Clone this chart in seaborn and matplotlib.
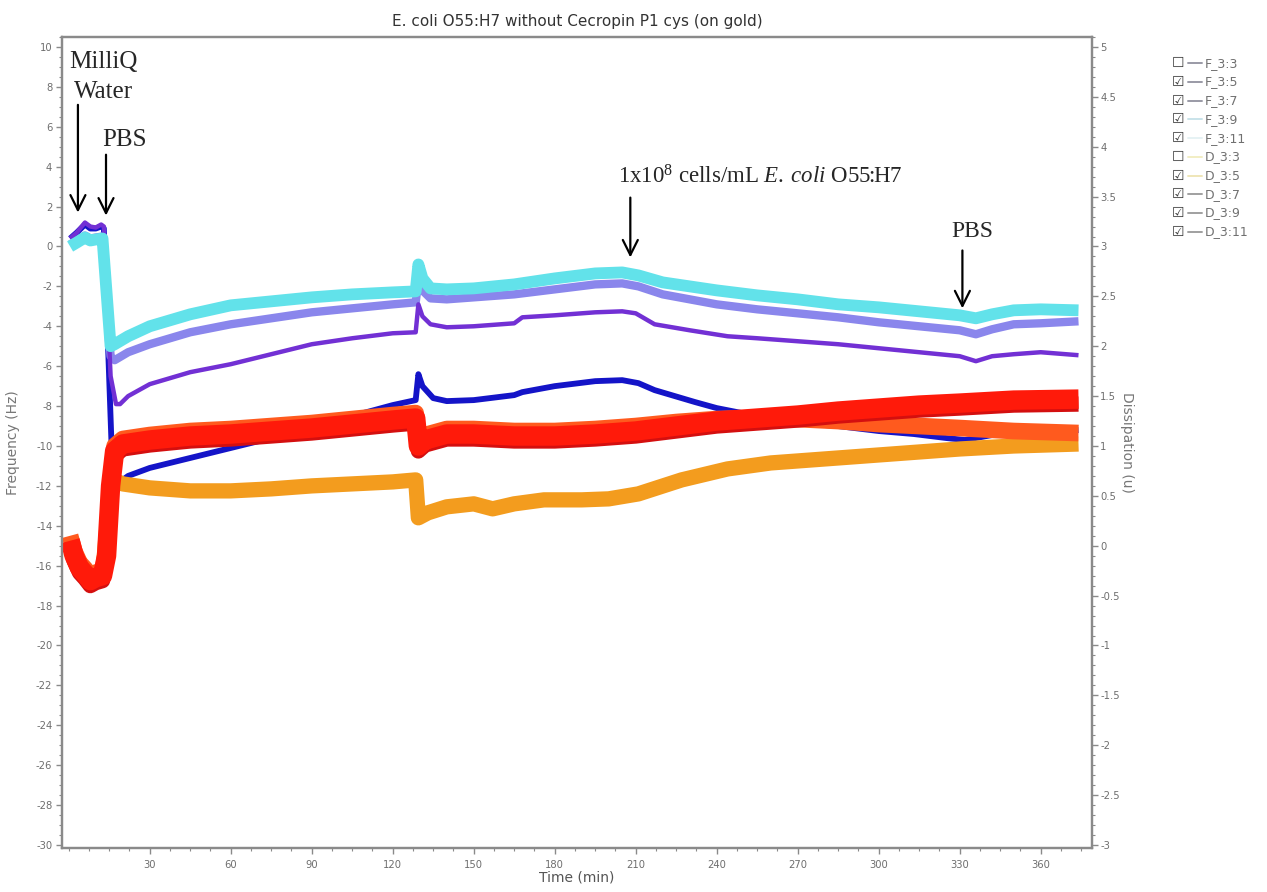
import numpy as np
import pandas as pd
import matplotlib
matplotlib.use("Agg")
import matplotlib.pyplot as plt
import seaborn as sns
from matplotlib.ticker import MultipleLocator, FuncFormatter
from matplotlib.lines import Line2D

# ---------------- data ----------------
# Frequency series (left axis, Hz)
t_f35 = [0.5, 3, 6, 8, 10, 12, 13, 16, 19, 22, 30, 45, 60, 75, 90, 105, 120, 128.5, 129.5, 131, 135,
         140, 150, 165, 168, 180, 195, 205, 211, 217, 232, 240, 255, 270, 285, 300, 313, 325, 332, 340,
         346, 360, 374]
f35 = [0.4, 0.7, 1.1, 0.9, 0.9, 1.0, 0.9, -10.5, -11.8, -11.5, -11.1, -10.6, -10.1, -9.6, -9.1, -8.5,
       -7.95, -7.7, -6.4, -7.0, -7.6, -7.75, -7.7, -7.45, -7.3, -7.0, -6.75, -6.7, -6.85, -7.2, -7.8,
       -8.1, -8.5, -8.85, -9.0, -9.25, -9.4, -9.6, -9.7, -9.5, -9.35, -9.3, -9.2]

t_f37 = [0.5, 3, 6, 8, 10, 12, 13, 15.5, 17.5, 19, 22, 30, 45, 60, 75, 90, 105, 120, 128.5, 129.5, 131,
         134, 140, 150, 160, 165, 168, 180, 195, 205, 210, 217, 230, 244, 255, 270, 285, 300, 315, 330,
         336, 342, 350, 360, 374]
f37 = [0.4, 0.7, 1.2, 1.0, 0.95, 1.1, 1.0, -6.5, -7.9, -7.9, -7.5, -6.9, -6.3, -5.9, -5.4, -4.9, -4.6,
       -4.35, -4.3, -2.9, -3.5, -3.9, -4.05, -4.0, -3.9, -3.85, -3.55, -3.45, -3.3, -3.25, -3.35, -3.9,
       -4.2, -4.5, -4.6, -4.75, -4.9, -5.1, -5.3, -5.5, -5.75, -5.5, -5.4, -5.3, -5.45]

t_f39 = [0.5, 3, 6, 8, 10, 12.5, 15.5, 17, 22, 30, 45, 60, 75, 90, 105, 120, 128.5, 129.5, 131, 134,
         140, 150, 165, 180, 195, 205, 211, 220, 240, 255, 270, 285, 300, 315, 330, 336, 342, 350, 360,
         374]
f39 = [0.1, 0.3, 0.55, 0.4, 0.45, 0.5, -5.5, -5.7, -5.3, -4.9, -4.3, -3.9, -3.6, -3.3, -3.1, -2.9, -2.8,
       -1.7, -2.2, -2.6, -2.65, -2.55, -2.4, -2.15, -1.9, -1.85, -2.0, -2.4, -2.9, -3.15, -3.35, -3.55,
       -3.8, -4.0, -4.2, -4.4, -4.15, -3.9, -3.85, -3.75]

t_f311 = [0.5, 3, 6, 8, 10, 12.5, 15.5, 17, 22, 30, 45, 60, 75, 90, 105, 120, 128.5, 129.5, 131, 134,
          140, 150, 165, 180, 195, 205, 211, 220, 240, 255, 270, 285, 300, 315, 330, 336, 342, 350, 360,
          374]
f311 = [0.0, 0.2, 0.45, 0.3, 0.35, 0.4, -5.0, -4.9, -4.5, -4.0, -3.4, -2.95, -2.75, -2.55, -2.4, -2.3,
        -2.25, -0.9, -1.6, -2.1, -2.15, -2.1, -1.9, -1.6, -1.35, -1.3, -1.45, -1.8, -2.2, -2.45, -2.65,
        -2.9, -3.05, -3.25, -3.45, -3.6, -3.4, -3.2, -3.15, -3.2]

# Dissipation series (right axis, 1e-6)
t_d35 = [0.5, 4, 8, 12.5, 14.5, 16.5, 20, 30, 45, 60, 75, 90, 105, 120, 128.5, 129.5, 133, 140, 150,
         157, 165, 176, 190, 200, 211, 227, 244, 260, 275, 290, 310, 330, 350, 374]
d35 = [-0.05, -0.2, -0.3, -0.3, 0.3, 0.66, 0.62, 0.58, 0.55, 0.55, 0.57, 0.6, 0.62, 0.64, 0.66, 0.28,
       0.33, 0.39, 0.42, 0.37, 0.42, 0.46, 0.46, 0.47, 0.52, 0.66, 0.77, 0.83, 0.86, 0.89, 0.93, 0.97,
       1.0, 1.02]

t_dred = [0.5, 2, 4, 6, 8, 10, 12.5, 14, 15.5, 17, 20, 30, 45, 60, 75, 90, 105, 120, 128.5, 129.5, 132,
          140, 150, 165, 180, 195, 210, 225, 240, 255, 270, 285, 300, 315, 330, 350, 374]
d37 = [0.1, -0.05, -0.17, -0.23, -0.3, -0.27, -0.25, -0.05, 0.65, 1.0, 1.07, 1.11, 1.15, 1.17, 1.2,
       1.23, 1.27, 1.31, 1.33, 1.05, 1.11, 1.17, 1.17, 1.15, 1.15, 1.17, 1.2, 1.24, 1.27, 1.28, 1.27,
       1.25, 1.22, 1.2, 1.18, 1.15, 1.13]
d39 = [0.05, -0.1, -0.22, -0.28, -0.35, -0.32, -0.3, -0.1, 0.6, 0.95, 1.02, 1.06, 1.1, 1.12, 1.15,
       1.18, 1.22, 1.26, 1.28, 1.0, 1.06, 1.12, 1.12, 1.1, 1.1, 1.12, 1.15, 1.2, 1.25, 1.28, 1.31, 1.35,
       1.38, 1.41, 1.43, 1.46, 1.47]
d311 = [0.0, -0.15, -0.27, -0.33, -0.4, -0.37, -0.35, -0.15, 0.55, 0.9, 0.97, 1.01, 1.05, 1.07, 1.1,
        1.13, 1.17, 1.21, 1.23, 0.95, 1.01, 1.07, 1.07, 1.05, 1.05, 1.07, 1.1, 1.15, 1.2, 1.23, 1.26,
        1.3, 1.33, 1.36, 1.38, 1.41, 1.42]

legend_labels = ["F_3:3", "F_3:5", "F_3:7", "F_3:9", "F_3:11",
                 "D_3:3", "D_3:5", "D_3:7", "D_3:9", "D_3:11"]
legend_checked = [False, True, True, True, True, False, True, True, True, True]
legend_colors = ["#9a9aa6", "#9a9aa6", "#9a9aa6", "#c9e3ea", "#e6f2f4",
                 "#f2eec4", "#efe6b8", "#a0a0a0", "#a0a0a0", "#a0a0a0"]

x_ticks = [30, 60, 90, 120, 150, 180, 210, 240, 270, 300, 330, 360]

title = "E. coli O55:H7 without Cecropin P1 cys (on gold)"

# ---------------- styling ----------------
sns.set_theme(style="white")
plt.rcParams["font.family"] = ["DejaVu Sans"]
plt.rcParams["axes.unicode_minus"] = False
plt.rcParams["mathtext.fontset"] = "custom"
plt.rcParams["mathtext.rm"] = "Liberation Serif"
plt.rcParams["mathtext.it"] = "Liberation Serif:italic"

W, H = 1267, 892
fig = plt.figure(figsize=(W / 100, H / 100), dpi=100)
fig.patch.set_facecolor("white")

ax_l, ax_r, ax_t, ax_b = 62, 1092, 37, 848
ax = fig.add_axes([ax_l / W, 1 - ax_b / H, (ax_r - ax_l) / W, (ax_b - ax_t) / H])
ax2 = ax.twinx()

line_kw = dict(solid_capstyle="butt", solid_joinstyle="round", errorbar=None, legend=False)

freq_series = [
    (t_f35, f35, "#1414c8", 4.2),
    (t_f39, f39, "#8a86ec", 6.0),
    (t_f37, f37, "#7230d4", 3.2),
    (t_f311, f311, "#62e2ea", 8.5),
]
for tt, vv, col, lw in freq_series:
    df = pd.DataFrame({"t": tt, "v": vv})
    sns.lineplot(data=df, x="t", y="v", ax=ax, color=col, linewidth=lw, **line_kw)

diss_series = [
    (t_d35, d35, "#f39c1e", 11),
    (t_dred, d37, "#ff5a1e", 12),
    (t_dred, d311, "#d40f0f", 11),
    (t_dred, d39, "#ff1a0a", 14),
]
for tt, vv, col, lw in diss_series:
    df = pd.DataFrame({"t": tt, "v": vv})
    sns.lineplot(data=df, x="t", y="v", ax=ax2, color=col, linewidth=lw, **line_kw)

# ---------------- axes ----------------
ax.set_xlim(-2.5, 379)
ax.set_ylim(-30.15, 10.5)
ax2.set_ylim(-3.03, 5.1)

tick_col = "#6e6e6e"
spine_col = "#8a8a8a"
ax.set_xticks(x_ticks)
ax.xaxis.set_minor_locator(MultipleLocator(7.5))
ax.set_yticks(np.arange(-30, 11, 2))
ax.yaxis.set_minor_locator(MultipleLocator(0.5))
ax2.set_yticks(np.arange(-3, 5.01, 0.5))
ax2.yaxis.set_minor_locator(MultipleLocator(0.1))
fmt = FuncFormatter(lambda v, p: "%g" % v)
ax.yaxis.set_major_formatter(fmt)
ax2.yaxis.set_major_formatter(fmt)

for a in (ax, ax2):
    for s in a.spines.values():
        s.set_color(spine_col)
        s.set_linewidth(1.6)
    a.tick_params(which="major", length=4, width=1, color=spine_col, labelcolor=tick_col, labelsize=7.2,
                  direction="out")
    a.tick_params(which="minor", length=2, width=0.8, color=spine_col, direction="out")
ax.tick_params(axis="x", which="both", bottom=True, pad=5)
ax.tick_params(axis="y", which="both", left=True, pad=3)
ax2.tick_params(axis="y", which="both", right=True, pad=2)

ax.set_xlabel("Time (min)", fontsize=10, color="#555555")
ax.xaxis.set_label_coords(0.5, -0.028)
ax.set_ylabel("Frequency (Hz)", fontsize=10, color="#777777")
ax.yaxis.set_label_coords(-0.041, 0.5)
ax2.set_ylabel("Dissipation (u)", fontsize=10, color="#777777", rotation=270, va="center")
ax2.yaxis.set_label_coords(1.034, 0.5)
ax.set_title(title, fontsize=11, color="#333333", pad=8)

# ---------------- annotations ----------------
serif = "Liberation Serif"
arrow_kw = dict(arrowstyle="->,head_length=0.9,head_width=0.45", color="black", lw=1.6,
                shrinkA=0, shrinkB=0)
ax.text(13.0, 9.25, "MilliQ", fontsize=18, family=serif, ha="center", va="center")
ax.text(13.0, 7.75, "Water", fontsize=18, family=serif, ha="center", va="center")
ax.annotate("", xy=(3.4, 1.7), xytext=(3.4, 7.1), arrowprops=arrow_kw)
ax.text(20.8, 5.35, "PBS", fontsize=18, family=serif, ha="center", va="center")
ax.annotate("", xy=(13.8, 1.55), xytext=(13.8, 4.6), arrowprops=arrow_kw)
ax.text(203.5, 3.5, r"1x10$^{8}$ cells/mL $\mathit{E.\:coli}$ O55:H7", fontsize=16.5,
        family=serif, ha="left", va="center")
ax.annotate("", xy=(208, -0.55), xytext=(208, 2.45), arrowprops=arrow_kw)
ax.text(327, 0.75, "PBS", fontsize=17, family=serif, ha="left", va="center")
ax.annotate("", xy=(331, -3.1), xytext=(331, -0.2), arrowprops=arrow_kw)

# ---------------- legend (checkbox list) ----------------
for i, (lab, chk, col) in enumerate(zip(legend_labels, legend_checked, legend_colors)):
    y = 63.3 + i * 18.7
    fy = 1 - y / H
    fig.text(1178 / W, fy, "\u2611" if chk else "\u2610", fontsize=10, color="#3a3a3a",
             ha="center", va="center")
    fig.add_artist(Line2D([1188 / W, 1202 / W], [fy, fy], color=col, lw=1.4,
                          transform=fig.transFigure))
    fig.text(1205 / W, fy, lab, fontsize=9, color="#707070", ha="left", va="center")

fig.savefig("out.png", dpi=100, facecolor="white")
